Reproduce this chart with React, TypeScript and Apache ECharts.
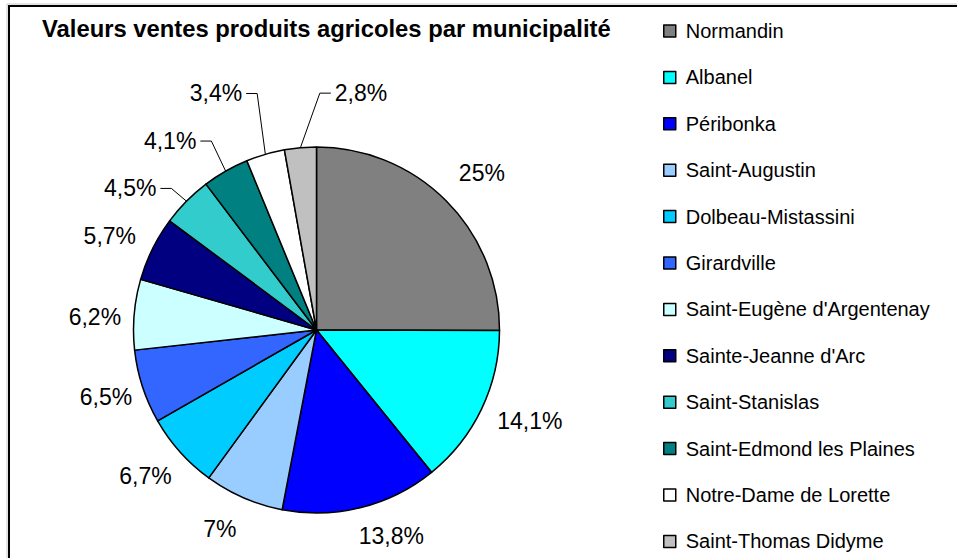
import React, { useEffect, useRef } from "react";
import * as echarts from "echarts";

const categories = [
  "Normandin",
  "Albanel",
  "Péribonka",
  "Saint-Augustin",
  "Dolbeau-Mistassini",
  "Girardville",
  "Saint-Eugène d'Argentenay",
  "Sainte-Jeanne d'Arc",
  "Saint-Stanislas",
  "Saint-Edmond les Plaines",
  "Notre-Dame de Lorette",
  "Saint-Thomas Didyme",
];
const values = [25, 14.1, 13.8, 7, 6.7, 6.5, 6.2, 5.7, 4.5, 4.1, 3.4, 2.8];

const colors = [
  "#808080",
  "#00FFFF",
  "#0000FF",
  "#99CCFF",
  "#00CCFF",
  "#3366FF",
  "#CCFFFF",
  "#000080",
  "#33CCCC",
  "#008080",
  "#FFFFFF",
  "#C0C0C0",
];

// label placement style (distance from centre, angular shift from slice mid-angle, leader line)
const labelDist = [228, 232, 219, 221, 225, 221, 222, 227, 234, 239, 257, 241];
const labelShift = [1.4, -2.5, -5.9, 2.5, 1.3, 0.3, -1.5, -1.9, -7.5, -8.0, -6.8, 15.7];
const labelLeader = [false, false, false, false, false, false, false, false, true, true, true, true];

const CX = 316.5;
const CY = 330;
const R = 183;
const FONT = "'Liberation Sans', Arial, sans-serif";

export default function App() {
  const ref = useRef<HTMLDivElement>(null);

  useEffect(() => {
    if (!ref.current) return;
    const chart = echarts.init(ref.current, undefined, { renderer: "svg" });
    const total = values.reduce((a, b) => a + b, 0);

    const data = categories.map((name, i) => ({
      name,
      value: values[i],
      itemStyle: { color: colors[i] },
      labelLine: { show: labelLeader[i] },
    }));

    chart.setOption({
      animation: false,
      backgroundColor: "#ffffff",
      title: {
        text: "Valeurs ventes produits agricoles par municipalité",
        left: 42,
        top: 16,
        padding: 0,
        textStyle: {
          fontFamily: FONT,
          fontWeight: "bold",
          fontSize: 23.8,
          lineHeight: 24,
          color: "#000",
        },
      },
      legend: {
        orient: "vertical",
        left: 663,
        top: 21,
        padding: 0,
        itemGap: 26.4,
        itemWidth: 12,
        itemHeight: 12,
        icon: "rect",
        selectedMode: false,
        data: categories,
        itemStyle: { borderColor: "#000", borderWidth: 1.5 },
        textStyle: {
          fontFamily: FONT,
          fontSize: 20,
          lineHeight: 20,
          color: "#000",
          padding: [0, 0, 0, 5],
        },
      },
      graphic: [
        {
          type: "rect",
          silent: true,
          z: 100,
          shape: { x: 7, y: 4, width: 1200, height: 1200 },
          style: { fill: "none", stroke: "#c8c8c8", lineWidth: 1 },
        },
        {
          type: "rect",
          silent: true,
          z: 101,
          shape: { x: 9, y: 6, width: 1200, height: 1200 },
          style: { fill: "none", stroke: "#000", lineWidth: 2 },
        },
      ],
      series: [
        {
          type: "pie",
          center: [CX, CY],
          radius: R,
          startAngle: 90,
          clockwise: true,
          avoidLabelOverlap: false,
          silent: true,
          emphasis: { disabled: true },
          itemStyle: { borderColor: "#000", borderWidth: 1.5 },
          label: {
            show: true,
            position: "outside",
            fontFamily: FONT,
            fontSize: 23,
            color: "#000",
            formatter: (p: any) => String(p.value).replace(".", ",") + "%",
          },
          labelLine: {
            show: false,
            length: 10,
            length2: 10,
            lineStyle: { color: "#000", width: 1 },
          },
          labelLayout: (p: any) => {
            const i = p.dataIndex;
            let cum = 0;
            for (let j = 0; j < i; j++) cum += values[j];
            const mid = ((cum + values[i] / 2) / total) * Math.PI * 2;
            const a = mid + (labelShift[i] * Math.PI) / 180;
            const lx = CX + labelDist[i] * Math.sin(a);
            const ly = CY - labelDist[i] * Math.cos(a);
            const res: any = { x: lx, y: ly, align: "center", verticalAlign: "middle" };
            if (labelLeader[i]) {
              const ex = CX + R * Math.sin(mid);
              const ey = CY - R * Math.cos(mid);
              const w = p.labelRect ? p.labelRect.width : 50;
              const side = ex > lx ? 1 : -1;
              const tx = lx + side * (w / 2 + 4);
              const bx = tx + side * 11;
              res.labelLinePoints = [
                [ex, ey],
                [bx, ly],
                [tx, ly],
              ];
            }
            return res;
          },
          data,
        },
      ],
    });

    return () => chart.dispose();
  }, []);

  return (
    <div
      ref={ref}
      style={{ position: "absolute", left: 0, top: 0, width: 957, height: 558 }}
    />
  );
}
